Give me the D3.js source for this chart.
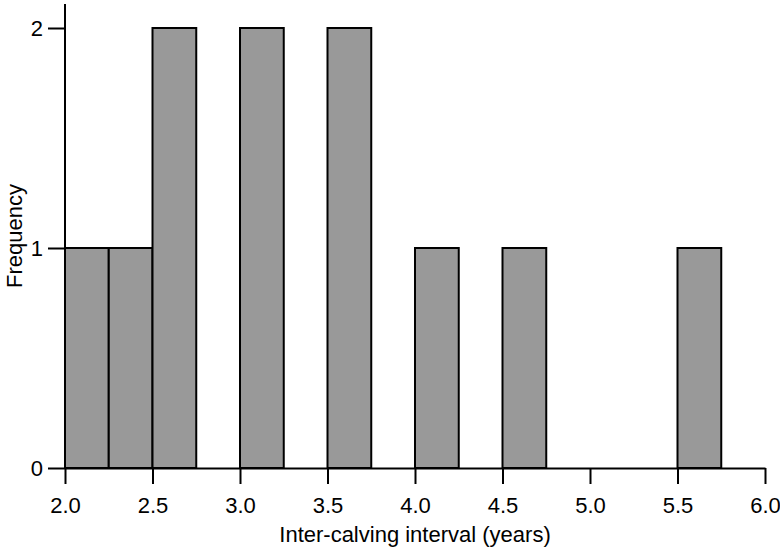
<!DOCTYPE html>
<html>
<head>
<meta charset="utf-8">
<script src="https://cdn.jsdelivr.net/npm/d3@7"></script>
<style>
  html, body { margin: 0; padding: 0; background: #fff; }
  svg { display: block; }
  text { font-family: "Liberation Sans", Arial, Helvetica, sans-serif; fill: #000; }
</style>
</head>
<body>
<svg id="chart" width="780" height="550"></svg>
<script>
// Data
const binStarts = [2.0, 2.25, 2.5, 2.75, 3.0, 3.25, 3.5, 3.75, 4.0, 4.25, 4.5, 4.75, 5.0, 5.25, 5.5, 5.75];
const binWidth = 0.25;
const counts = [1, 1, 2, 0, 2, 0, 2, 0, 1, 0, 1, 0, 0, 0, 1, 0];
const xTicks = [2.0, 2.5, 3.0, 3.5, 4.0, 4.5, 5.0, 5.5, 6.0];
const yTicks = [0, 1, 2];
const xLabel = "Inter-calving interval (years)";
const yLabel = "Frequency";

const svg = d3.select("#chart");
const x = d3.scaleLinear().domain([2, 6]).range([65, 765]);
const y = d3.scaleLinear().domain([0, 2]).range([468, 28]);

const bins = binStarts.map((s, i) => ({ x0: s, x1: s + binWidth, n: counts[i] }));

svg.append("g").selectAll("rect")
  .data(bins.filter(d => d.n > 0))
  .join("rect")
  .attr("x", d => x(d.x0))
  .attr("width", d => x(d.x1) - x(d.x0))
  .attr("y", d => y(d.n))
  .attr("height", d => y(0) - y(d.n))
  .attr("fill", "#999999")
  .attr("stroke", "#000")
  .attr("stroke-width", 2);

// X axis
const xAxis = svg.append("g")
  .attr("transform", `translate(0,${y(0)})`)
  .call(d3.axisBottom(x).tickValues(xTicks).tickFormat(d3.format(".1f")).tickSize(16).tickPadding(13).tickSizeOuter(0));
xAxis.select(".domain").attr("stroke-width", 2);
xAxis.selectAll(".tick line").attr("stroke-width", 2);
xAxis.selectAll("text").attr("font-size", 22).style("font-family", '"Liberation Sans", Arial, sans-serif');

// Y axis
const yAxis = svg.append("g")
  .attr("transform", `translate(${x(2)},0)`)
  .call(d3.axisLeft(y).tickValues(yTicks).tickFormat(d3.format("d")).tickSize(17).tickPadding(5).tickSizeOuter(0));
yAxis.select(".domain").attr("d", `M0,${y(0)}V4`).attr("stroke-width", 2);
yAxis.selectAll(".tick line").attr("stroke-width", 2);
yAxis.selectAll("text").attr("font-size", 22).style("font-family", '"Liberation Sans", Arial, sans-serif');

// Labels
svg.append("text")
  .attr("x", x(4))
  .attr("y", 542)
  .attr("text-anchor", "middle")
  .attr("font-size", 22)
  .text(xLabel);

svg.append("text")
  .attr("transform", `translate(22,236) rotate(-90)`)
  .attr("text-anchor", "middle")
  .attr("font-size", 22)
  .text(yLabel);
</script>
</body>
</html>
